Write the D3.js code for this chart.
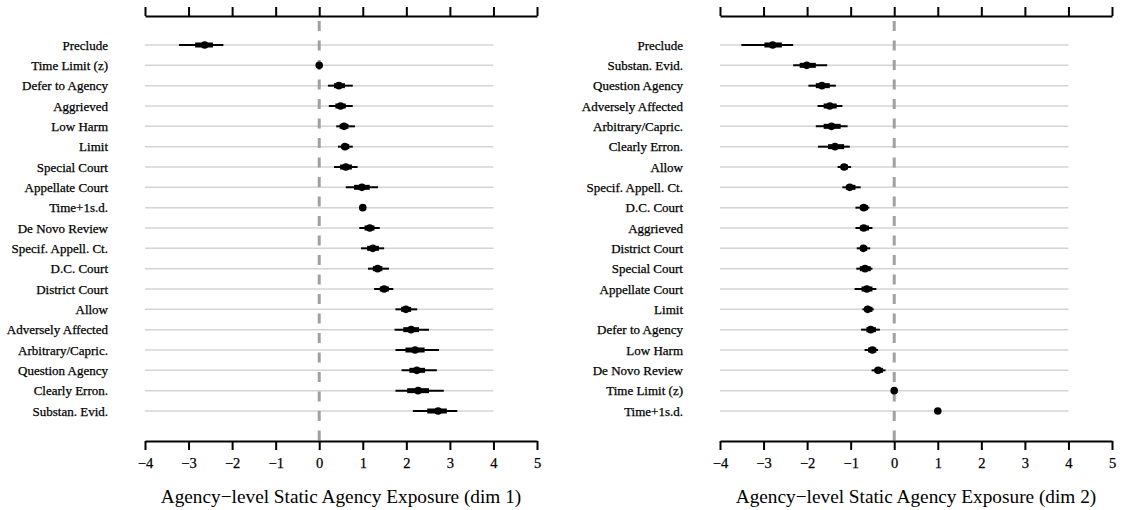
<!DOCTYPE html>
<html>
<head>
<meta charset="utf-8">
<script src="https://cdn.jsdelivr.net/npm/d3@7"></script>
<style>
  body { margin: 0; background: #fff; }
</style>
</head>
<body>
<svg id="chart" width="1122" height="510"></svg>
<script>
// dim 1 panel
var labels1 = ["Preclude", "Time Limit (z)", "Defer to Agency", "Aggrieved", "Low Harm", "Limit",
  "Special Court", "Appellate Court", "Time+1s.d.", "De Novo Review", "Specif. Appell. Ct.",
  "D.C. Court", "District Court", "Allow", "Adversely Affected", "Arbitrary/Capric.",
  "Question Agency", "Clearly Erron.", "Substan. Evid."];
var est1 = [-2.63, 0, 0.45, 0.49, 0.57, 0.59, 0.61, 0.98, 1, 1.16, 1.23, 1.34, 1.49, 1.99, 2.11, 2.20, 2.24, 2.27, 2.73];
var lo1 = [-3.22, 0, 0.20, 0.22, 0.39, 0.43, 0.34, 0.61, 1, 0.92, 0.96, 1.12, 1.26, 1.75, 1.73, 1.75, 1.89, 1.75, 2.15];
var hi1 = [-2.20, 0, 0.77, 0.77, 0.82, 0.77, 0.88, 1.35, 1, 1.39, 1.49, 1.60, 1.70, 2.25, 2.52, 2.75, 2.70, 2.86, 3.17];
var loIn1 = [-2.85, 0, 0.34, 0.37, 0.47, 0.51, 0.48, 0.80, 1, 1.04, 1.10, 1.23, 1.39, 1.88, 1.93, 1.98, 2.07, 2.02, 2.48];
var hiIn1 = [-2.44, 0, 0.59, 0.61, 0.67, 0.69, 0.75, 1.16, 1, 1.27, 1.37, 1.45, 1.60, 2.11, 2.29, 2.42, 2.43, 2.52, 2.93];

// dim 2 panel
var labels2 = ["Preclude", "Substan. Evid.", "Question Agency", "Adversely Affected", "Arbitrary/Capric.",
  "Clearly Erron.", "Allow", "Specif. Appell. Ct.", "D.C. Court", "Aggrieved", "District Court",
  "Special Court", "Appellate Court", "Limit", "Defer to Agency", "Low Harm", "De Novo Review",
  "Time Limit (z)", "Time+1s.d."];
var est2 = [-2.79, -2.01, -1.66, -1.48, -1.44, -1.36, -1.15, -1.02, -0.70, -0.70, -0.71, -0.67, -0.63, -0.61, -0.54, -0.50, -0.37, 0, 1];
var lo2 = [-3.51, -2.32, -1.97, -1.76, -1.80, -1.75, -1.30, -1.19, -0.89, -0.89, -0.86, -0.87, -0.91, -0.73, -0.76, -0.68, -0.52, 0, 1];
var hi2 = [-2.32, -1.54, -1.34, -1.19, -1.07, -1.02, -0.99, -0.77, -0.57, -0.50, -0.55, -0.50, -0.41, -0.47, -0.33, -0.37, -0.20, 0, 1];
var loIn2 = [-2.98, -2.17, -1.80, -1.62, -1.62, -1.52, -1.23, -1.11, -0.79, -0.79, -0.78, -0.79, -0.75, -0.68, -0.64, -0.60, -0.45, 0, 1];
var hiIn2 = [-2.58, -1.80, -1.48, -1.32, -1.23, -1.15, -1.06, -0.89, -0.60, -0.58, -0.62, -0.54, -0.50, -0.50, -0.42, -0.41, -0.26, 0, 1];

var ticks = [-4, -3, -2, -1, 0, 1, 2, 3, 4, 5];

var serif = "'Liberation Serif', 'Times New Roman', serif";

const svg = d3.select("#chart");

function panel(left, labels, est, lo, hi, loIn, hiIn, title) {
  var data = labels.map((d, i) => ({name: d, est: est[i], lo: lo[i], hi: hi[i], loIn: loIn[i], hiIn: hiIn[i]}));

  var x = d3.scaleLinear()
    .domain([-4, 5])
    .range([left, left + 392]);

  var y = d3.scalePoint()
    .domain(labels)
    .range([45, 411]);

  var g = svg.append("g");

  // grey rows
  g.append("g")
    .selectAll("line")
    .data(data)
    .join("line")
      .attr("x1", x(-4))
      .attr("x2", x(4))
      .attr("y1", d => y(d.name))
      .attr("y2", d => y(d.name))
      .attr("stroke", "#d4d4d4")
      .attr("stroke-width", 1.5);

  // zero line
  g.append("line")
    .attr("x1", x(0))
    .attr("x2", x(0))
    .attr("y1", 21)
    .attr("y2", 441)
    .attr("stroke", "#a0a0a0")
    .attr("stroke-width", 3)
    .attr("stroke-dasharray", "10,9.5");

  // outer intervals
  g.append("g")
    .selectAll("line")
    .data(data)
    .join("line")
      .attr("x1", d => x(d.lo))
      .attr("x2", d => x(d.hi))
      .attr("y1", d => y(d.name))
      .attr("y2", d => y(d.name))
      .attr("stroke", "#000")
      .attr("stroke-width", 2);

  // inner intervals
  g.append("g")
    .selectAll("line")
    .data(data)
    .join("line")
      .attr("x1", d => x(d.loIn))
      .attr("x2", d => x(d.hiIn))
      .attr("y1", d => y(d.name))
      .attr("y2", d => y(d.name))
      .attr("stroke", "#000")
      .attr("stroke-width", 5);

  g.append("g")
    .selectAll("circle")
    .data(data)
    .join("circle")
      .attr("cx", d => x(d.est))
      .attr("cy", d => y(d.name))
      .attr("r", 3.8)
      .attr("fill", "#000");

  // row labels
  g.append("g")
    .selectAll("text")
    .data(data)
    .join("text")
      .attr("x", left - 37)
      .attr("y", d => y(d.name))
      .attr("dy", "0.35em")
      .attr("text-anchor", "end")
      .attr("font-family", serif)
      .attr("font-size", 13)
      .attr("stroke", "#000")
      .attr("stroke-width", 0.25)
      .text(d => d.name);

  const gTop = g.append("g")
    .attr("transform", "translate(0,16)")
    .call(d3.axisTop(x).tickValues(ticks).tickSize(9).tickSizeOuter(0).tickFormat(""));
  gTop.select(".domain").attr("stroke-width", 2);
  gTop.selectAll(".tick line").attr("stroke-width", 2);

  const gBot = g.append("g")
    .attr("transform", "translate(0,441)")
    .call(d3.axisBottom(x).tickValues(ticks).tickSize(9).tickSizeOuter(0).tickPadding(8));
  gBot.attr("font-family", serif).attr("font-size", 14.5);
  gBot.select(".domain").attr("stroke-width", 2);
  gBot.selectAll(".tick line").attr("stroke-width", 2);
  gBot.selectAll(".tick text").attr("stroke", "#000").attr("stroke-width", 0.25);

  g.append("text")
    .attr("x", x(0.5))
    .attr("y", 503)
    .attr("text-anchor", "middle")
    .attr("font-family", serif)
    .attr("font-size", 19.3)
    .text(title);
}

panel(145, labels1, est1, lo1, hi1, loIn1, hiIn1, "Agency\u2212level Static Agency Exposure (dim 1)");
panel(720, labels2, est2, lo2, hi2, loIn2, hiIn2, "Agency\u2212level Static Agency Exposure (dim 2)");
</script>
</body>
</html>
